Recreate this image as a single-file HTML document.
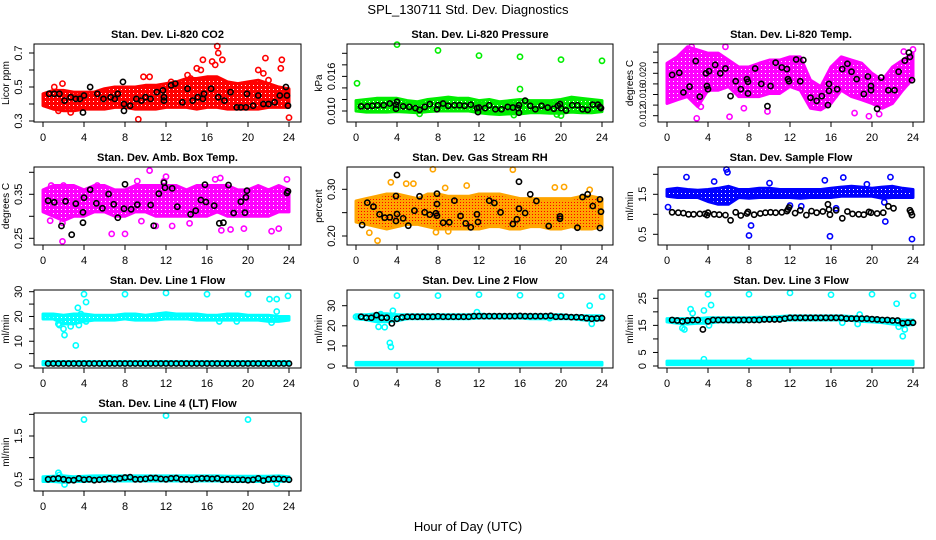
<!DOCTYPE html>
<html><head><meta charset="utf-8"><style>
html,body{margin:0;padding:0;background:#fff}
svg{display:block;font-family:"Liberation Sans",sans-serif}
</style></head><body>
<svg id="chart" width="936" height="540" viewBox="0 0 936 540" xmlns="http://www.w3.org/2000/svg">
<defs>
<pattern id="rhpat" width="3" height="3" patternUnits="userSpaceOnUse"><rect width="3" height="3" fill="#ffa500"/><rect x="1" y="1" width="1" height="1" fill="#ff0000"/></pattern>
<pattern id="p-red" width="4" height="4" patternUnits="userSpaceOnUse"><rect width="4" height="4" fill="#ff0000"/><rect x="1" y="1" width="1" height="1" fill="#fff"/></pattern>
<pattern id="p-green" width="4" height="4" patternUnits="userSpaceOnUse"><rect width="4" height="4" fill="#00ee00"/><rect x="1" y="1" width="1" height="1" fill="#fff"/></pattern>
<pattern id="p-mag" width="4" height="4" patternUnits="userSpaceOnUse"><rect width="4" height="4" fill="#ff00ff"/><rect x="1" y="1" width="1" height="1" fill="#fff"/></pattern>
<pattern id="p-blue" width="4" height="4" patternUnits="userSpaceOnUse"><rect width="4" height="4" fill="#0000ff"/><rect x="1" y="1" width="1" height="1" fill="#fff"/></pattern>
<pattern id="p-cyan" width="4" height="4" patternUnits="userSpaceOnUse"><rect width="4" height="4" fill="#00ffff"/><rect x="1" y="1" width="1" height="1" fill="#fff"/></pattern>
</defs>
<text x="468" y="14" text-anchor="middle" font-size="13">SPL_130711  Std. Dev. Diagnostics</text>
<text x="468" y="531" text-anchor="middle" font-size="13">Hour of Day (UTC)</text>
<g id="panels"></g>
</svg>
<script>
const HOURS=[0,1,2,3,4,5,6,7,8,9,10,11,12,13,14,15,16,17,18,19,20,21,22,23,24];
const XTICKS=[0,4,8,12,16,20,24];
const HALF=[0.5,1,1.5,2,2.5,3,3.5,4,4.5,5,5.5,6,6.5,7,7.5,8,8.5,9,9.5,10,10.5,11,11.5,12,12.5,13,13.5,14,14.5,15,15.5,16,16.5,17,17.5,18,18.5,19,19.5,20,20.5,21,21.5,22,22.5,23,23.5,24];

// Panel 1: CO2
const co2Hi=[0.46,0.48,0.48,0.47,0.47,0.47,0.49,0.50,0.50,0.50,0.51,0.51,0.52,0.53,0.55,0.55,0.56,0.56,0.53,0.52,0.53,0.54,0.52,0.50,0.49];
const co2Lo=[0.39,0.37,0.36,0.36,0.37,0.37,0.37,0.38,0.38,0.37,0.37,0.37,0.38,0.38,0.38,0.37,0.38,0.38,0.37,0.37,0.37,0.37,0.38,0.38,0.38];
const co2OutX=[1.1,1.9,9.3,9.8,10.4,12.5,14.1,14.4,15.0,15.4,15.6,16.5,16.8,17.0,17.1,17.5,21.5,21.7,22.0,23.2,23.3,24.0,21.0,2.7,1.5];
const co2OutY=[0.50,0.52,0.31,0.56,0.56,0.53,0.57,0.55,0.61,0.60,0.66,0.65,0.63,0.74,0.70,0.66,0.58,0.67,0.54,0.61,0.66,0.32,0.60,0.35,0.36];
const co2BlkX=[0.6,1.1,1.6,2.1,2.7,3.2,3.6,3.9,4.0,4.6,5.3,5.9,6.6,7.0,7.3,7.8,7.9,7.9,8.5,9.1,9.6,10.0,10.5,11.1,11.7,11.8,11.8,12.5,12.9,13.6,14.1,14.6,15.1,15.6,15.7,16.4,17.1,17.7,18.3,18.9,19.3,19.8,19.9,20.5,21.0,21.5,22.0,22.6,23.1,23.7,23.8,23.9];
const co2BlkY=[0.46,0.46,0.46,0.42,0.44,0.43,0.43,0.35,0.45,0.50,0.46,0.43,0.44,0.43,0.46,0.53,0.40,0.36,0.39,0.43,0.42,0.44,0.43,0.47,0.48,0.44,0.42,0.51,0.52,0.41,0.49,0.42,0.44,0.43,0.46,0.49,0.44,0.42,0.47,0.38,0.38,0.38,0.46,0.39,0.45,0.40,0.40,0.41,0.45,0.50,0.45,0.39];

// Panel 2: Pressure
const prHi=[0.0118,0.0120,0.0122,0.0122,0.0122,0.0118,0.0116,0.0120,0.0122,0.0124,0.0122,0.0122,0.0118,0.0120,0.0116,0.0118,0.0120,0.0118,0.0118,0.0118,0.0120,0.0124,0.0122,0.0120,0.0118];
const prLo=[0.0100,0.0098,0.0098,0.0098,0.0099,0.0098,0.0097,0.0099,0.0100,0.0100,0.0100,0.0100,0.0097,0.0095,0.0094,0.0095,0.0095,0.0097,0.0097,0.0096,0.0096,0.0098,0.0097,0.0097,0.0099];
const prOutX=[0.1,4.0,8.0,12.0,16.0,20.0,24.0,16.0,15.4,20.0,6.2,19.6];
const prOutY=[0.0148,0.0215,0.0205,0.0196,0.0194,0.0189,0.0187,0.0138,0.0093,0.0092,0.0095,0.0094];
const prBlkX=[0.5,1.1,1.6,2.1,2.7,3.3,3.9,4.0,3.9,4.6,5.2,5.8,6.2,6.7,7.2,7.9,8.0,8.5,9.0,9.6,10.1,10.6,11.2,11.8,11.9,12.0,12.6,13.0,13.6,14.2,14.8,15.3,15.8,15.9,15.9,16.5,17.0,17.5,18.1,18.7,19.3,19.7,19.9,20.0,20.5,21.1,21.6,22.1,22.6,23.1,23.6,23.8,23.9];
const prBlkY=[0.0108,0.0108,0.0109,0.0110,0.0110,0.0113,0.0111,0.0116,0.0104,0.0108,0.0107,0.0105,0.0102,0.0107,0.0112,0.0103,0.0110,0.0113,0.0109,0.0110,0.0110,0.0109,0.0111,0.0105,0.0098,0.0106,0.0105,0.0110,0.0103,0.0103,0.0107,0.0106,0.0105,0.0110,0.0097,0.0118,0.0109,0.0103,0.0109,0.0106,0.0104,0.0109,0.0112,0.0105,0.0101,0.0110,0.0110,0.0103,0.0102,0.0111,0.0111,0.0107,0.0105];

// Panel 3: Li-820 Temp
const tmHi=[0.0219,0.0231,0.0250,0.0244,0.0238,0.0238,0.0225,0.0212,0.0212,0.0219,0.0225,0.0225,0.0231,0.0231,0.0187,0.0175,0.0212,0.0231,0.0225,0.0219,0.0200,0.0187,0.0212,0.0225,0.0238];
const tmLo=[0.0143,0.0150,0.0156,0.0137,0.0168,0.0168,0.0175,0.0156,0.0156,0.0156,0.0162,0.0162,0.0175,0.0168,0.0134,0.0131,0.0143,0.0168,0.0156,0.0150,0.0143,0.0134,0.0143,0.0168,0.0190];
const tmOutX=[2.4,5.7,2.9,6.1,19.7,20.7,7.5,9.8,3.3,18.3,23.1,24.0];
const tmOutY=[0.0250,0.0250,0.0115,0.0118,0.0119,0.0123,0.0134,0.0128,0.0137,0.0125,0.0241,0.0245];
const tmBlkX=[0.5,1.2,1.6,2.2,2.8,3.2,3.8,3.9,4.0,4.1,4.7,5.2,5.7,6.2,6.7,7.2,7.8,7.9,7.9,8.6,9.2,9.8,10.1,10.6,11.2,11.7,11.8,11.9,12.6,13.0,13.3,14.0,14.6,15.1,15.7,15.8,15.8,16.6,17.1,17.6,18.0,18.5,19.2,19.6,19.9,19.9,20.5,20.9,21.6,22.2,22.6,23.2,23.6,23.7,23.9];
const tmBlkY=[0.0197,0.0201,0.0164,0.0175,0.0223,0.0156,0.0200,0.0176,0.0170,0.0204,0.0216,0.0200,0.0209,0.0157,0.0185,0.0170,0.0189,0.0184,0.0162,0.0209,0.0180,0.0138,0.0176,0.0220,0.0211,0.0208,0.0189,0.0185,0.0226,0.0185,0.0225,0.0154,0.0148,0.0157,0.0140,0.0180,0.0167,0.0170,0.0208,0.0218,0.0203,0.0189,0.0161,0.0194,0.0176,0.0168,0.0133,0.0192,0.0168,0.0168,0.0203,0.0224,0.0239,0.0231,0.0187];

// Panel 4: Amb Box Temp
const abHi=[0.36,0.37,0.37,0.37,0.36,0.37,0.37,0.36,0.36,0.37,0.37,0.37,0.37,0.37,0.36,0.37,0.37,0.37,0.37,0.36,0.36,0.37,0.36,0.37,0.36];
const abLo=[0.31,0.30,0.29,0.30,0.30,0.31,0.31,0.30,0.30,0.31,0.31,0.30,0.30,0.30,0.30,0.30,0.30,0.31,0.30,0.30,0.30,0.30,0.30,0.31,0.31];
const abOutX=[1.9,10.4,11.8,12.0,17.3,16.8,23.8,8.0,6.7,17.4,18.3,19.6,22.3,23.0,0.7,1.9,9.6,11.0,12.6,14.3,0.8,2.0,9.2,5.3];
const abOutY=[0.243,0.404,0.380,0.390,0.387,0.384,0.384,0.260,0.260,0.268,0.270,0.272,0.266,0.272,0.290,0.285,0.289,0.278,0.278,0.284,0.370,0.370,0.380,0.370];
const abBlkX=[0.5,1.1,2.2,2.8,1.8,3.2,3.9,3.9,4.0,4.6,5.2,5.8,6.4,6.9,7.3,7.9,8.0,8.6,9.2,10.5,10.8,11.3,11.8,11.9,12.6,13.1,14.4,14.9,15.4,15.8,15.9,16.7,17.2,17.6,18.1,18.6,19.3,19.7,19.8,19.9,23.8,23.9];
const abBlkY=[0.3355,0.3318,0.3341,0.2582,0.2780,0.3287,0.2855,0.3091,0.3423,0.3605,0.3295,0.3182,0.3507,0.3273,0.2968,0.3173,0.3727,0.3159,0.3264,0.3257,0.2786,0.3514,0.3764,0.3650,0.3636,0.3218,0.3045,0.3127,0.3370,0.3718,0.3325,0.3241,0.2841,0.2855,0.3711,0.3075,0.3332,0.3082,0.3432,0.3582,0.3530,0.3568];

// Panel 5: Gas Stream RH
const rhHi=[0.275,0.280,0.285,0.290,0.290,0.285,0.280,0.290,0.290,0.285,0.285,0.285,0.290,0.290,0.290,0.285,0.280,0.280,0.280,0.280,0.280,0.280,0.285,0.285,0.280];
const rhLo=[0.230,0.225,0.220,0.215,0.220,0.225,0.225,0.220,0.215,0.215,0.215,0.215,0.215,0.220,0.220,0.215,0.215,0.220,0.220,0.215,0.215,0.220,0.215,0.215,0.220];
const rhOutX=[1.3,2.1,3.4,4.9,5.6,7.5,7.8,8.7,10.8,15.3,19.4,20.3,22.8,9.0];
const rhOutY=[0.207,0.190,0.315,0.312,0.312,0.343,0.208,0.303,0.308,0.342,0.304,0.305,0.299,0.210];
const rhBlkX=[0.6,1.1,1.7,2.3,2.8,3.3,3.9,3.9,4.0,4.6,5.1,5.7,6.2,6.7,7.2,7.8,7.9,7.9,7.9,8.5,9.1,9.6,10.2,10.7,11.2,11.8,11.9,13.0,13.5,14.1,15.3,15.7,15.9,15.9,16.5,17.0,17.6,18.8,19.9,19.9,21.6,22.1,22.6,23.1,23.8,23.8,23.9,4.0];
const rhBlkY=[0.2236,0.2714,0.2628,0.2465,0.2392,0.2400,0.2321,0.2857,0.2471,0.2378,0.2221,0.2542,0.2850,0.2507,0.2457,0.2486,0.2906,0.2435,0.2685,0.2285,0.2293,0.2757,0.2428,0.2271,0.2186,0.2465,0.2300,0.2757,0.2707,0.2507,0.2257,0.2357,0.3163,0.2585,0.2492,0.2893,0.2749,0.2214,0.2421,0.2371,0.2178,0.2835,0.2893,0.2642,0.2785,0.2171,0.2521,0.3306];

// Panel 6: Sample Flow
const sfHi=[1.62,1.65,1.62,1.60,1.62,1.65,1.70,1.62,1.62,1.65,1.65,1.62,1.62,1.62,1.62,1.62,1.65,1.68,1.70,1.68,1.65,1.68,1.70,1.65,1.62];
const sfLo=[1.45,1.42,1.42,1.42,1.32,1.25,1.25,1.42,1.40,1.42,1.42,1.42,1.42,1.40,1.42,1.42,1.42,1.45,1.45,1.45,1.45,1.40,1.42,1.42,1.42];
const sfOutX=[0.1,1.9,4.6,5.8,5.9,8.0,8.2,15.9,23.9,21.3,17.2,21.8,12.0,15.4,10.0,19.5,16.5,21.2,13.1];
const sfOutY=[1.18,1.93,1.82,2.12,2.05,0.47,0.72,0.45,0.38,0.82,1.92,1.93,1.22,1.85,1.78,1.75,1.15,1.30,1.20];
const sfBlkX=[0.5,1.1,1.6,2.1,2.6,3.2,3.7,3.9,4.0,4.6,5.1,5.7,6.2,6.7,7.2,7.8,7.9,8.5,9.1,9.6,10.1,10.6,11.2,11.7,11.8,11.9,12.5,13.0,13.6,14.1,14.6,15.2,15.7,15.8,15.9,16.5,17.1,17.6,18.1,18.7,19.2,19.7,19.9,20.5,21.1,21.6,22.1,23.7,23.8,23.9];
const sfBlkY=[1.05,1.04,1.03,1.00,1.00,1.01,1.01,0.98,1.04,1.00,0.99,0.98,0.85,1.05,0.97,1.02,1.06,0.99,1.02,1.04,1.05,1.04,1.05,1.08,1.12,1.17,1.03,1.10,0.98,1.08,1.04,1.07,1.25,1.12,0.99,1.10,0.90,1.07,1.01,1.00,0.99,1.06,1.04,1.02,1.04,1.20,1.15,1.10,1.05,0.98];

// Panel 7: Line 1 Flow
const l1Hi=[21,21,20.5,21,21,20.5,20.5,20.5,21,21,20.5,21,21.5,21,21,21,20.5,20.5,21,21,20.5,20.5,20.5,20,20];
const l1Lo=[19,19,17,17,18,18.5,18.5,18.5,19,18.5,18.5,18.5,19,19,19,18.5,18.5,18.5,18.5,18.5,18.5,18.5,18,18,18.5];
const l1Hi2=[1.8,1.8,1.8,1.8,1.8,1.8,1.8,1.8,1.8,1.8,1.8,1.8,1.8,1.8,1.8,1.8,1.8,1.8,1.8,1.8,1.8,1.8,1.8,1.8,1.8];
const l1Lo2=[0.5,0.5,0.5,0.5,0.5,0.5,0.5,0.5,0.5,0.5,0.5,0.5,0.5,0.5,0.5,0.5,0.5,0.5,0.5,0.5,0.5,0.5,0.5,0.5,0.5];
const l1OutX=[1.5,1.6,2.0,2.1,2.7,3.2,3.4,3.5,3.7,4.0,4.2,4.2,8.0,12.0,16.0,20.0,22.1,22.8,22.8,23.9,17.2,18.9,22.3];
const l1OutY=[17,16.5,15,12.5,16,8.3,23.5,16.5,21,29,25.8,18,29,29.5,29,29,27,27,22,28.3,18,18,17.5];
const l1BlkY=[1,1,1,1,1,1,1,1,1,1,1,1,1,1,1,1,1,1,1,1,1,1,1,1,1,1,1,1,1,1,1,1,1,1,1,1,1,1,1,1,1,1,1,1,1,1,1,1];

// Panel 8: Line 2 Flow
const l2Hi=[25.5,25.5,26,26,25.5,25.5,25.5,25.5,25.5,25.5,25.5,25.5,25.8,25.5,25.5,25.5,25.5,25.5,25.5,25.5,25.5,25,25,25,25];
const l2Lo=[23.5,23,22,22,22.5,23.5,23.5,23.5,23.5,23.5,23.5,23.5,23.8,23.8,23.8,23.8,23.8,23.5,23.5,23.5,23.5,23.5,23,22.5,23];
const l2Hi2=[1.8,1.8,1.8,1.8,1.8,1.8,1.8,1.8,1.8,1.8,1.8,1.8,1.8,1.8,1.8,1.8,1.8,1.8,1.8,1.8,1.8,1.8,1.8,1.8,1.8];
const l2Lo2=[0.5,0.5,0.5,0.5,0.5,0.5,0.5,0.5,0.5,0.5,0.5,0.5,0.5,0.5,0.5,0.5,0.5,0.5,0.5,0.5,0.5,0.5,0.5,0.5,0.5];
const l2OutX=[0.0,2.2,2.4,2.8,3.3,3.4,3.6,4.0,8.0,12.0,16.0,20.0,22.8,23.0,24.0,11.8,18.9];
const l2OutY=[24.5,19.5,25.8,19.3,11.5,9.5,27.5,35,35,35.5,35.2,35,30,21,34.5,26.8,23.8];
const l2BlkY=[24.5,24,24,25.3,24,24,21.2,23.5,24.2,24.5,24.5,24.5,24.5,24.5,24.5,24.7,24.5,24.5,24.5,24.5,24.5,24.5,24.8,24.8,24.8,24.8,24.8,24.8,24.8,24.8,24.8,24.9,24.8,24.8,24.8,24.8,24.8,25,24.5,24.5,24.5,24.3,24.3,24.2,23.8,23.5,23.7,23.8];

// Panel 9: Line 3 Flow
const l3Hi=[17.5,17.5,17.5,17.5,17.8,17.8,17.8,17.8,17.8,18,18,18.3,18.5,18.5,18.5,18.5,18.5,18.5,18.3,18,17.8,17.5,17.3,17,17];
const l3Lo=[16.3,15.8,15.5,15.8,15.8,16.3,16.3,16.3,16.5,16.5,16.8,16.8,17,17,17,17,17,17,16.8,16.5,16.3,16,15.5,15,15.3];
const l3Hi2=[1.8,1.8,1.8,1.8,1.8,1.8,1.8,1.8,1.8,1.8,1.8,1.8,1.8,1.8,1.8,1.8,1.8,1.8,1.8,1.8,1.8,1.8,1.8,1.8,1.8];
const l3Lo2=[0.5,0.5,0.5,0.5,0.5,0.5,0.5,0.5,0.5,0.5,0.5,0.5,0.5,0.5,0.5,0.5,0.5,0.5,0.5,0.5,0.5,0.5,0.5,0.5,0.5];
const l3OutX=[1.5,1.7,2.3,2.5,3.6,4.0,4.3,4.1,8.0,12.0,16.0,20.0,22.4,22.6,23.0,23.2,24.0,18.8,17.1,18.6,3.6,8.0];
const l3OutY=[14,13.5,21,19.5,20.5,26.5,22.5,15,26.5,27,26.3,26.5,23,14.5,11,13.5,26,19,16,15.5,2.5,1.9];
const l3BlkY=[17,16.8,16.5,16.8,17,17,13.5,16.5,17,17,17,17,17,17,17,17,17,17,17.2,17.2,17.2,17.2,17.5,17.8,17.8,17.8,17.8,17.8,17.8,17.8,17.8,17.8,17.8,17.8,17.5,17.5,17.5,17.5,17.5,17.3,17.2,17,17,16.8,16.8,15.8,16,16];

// Panel 10: Line 4 (LT) Flow
const l4Hi=[0.56,0.57,0.58,0.56,0.57,0.58,0.58,0.58,0.58,0.58,0.58,0.58,0.58,0.58,0.58,0.58,0.58,0.58,0.57,0.57,0.57,0.57,0.57,0.58,0.56];
const l4Lo=[0.45,0.45,0.43,0.45,0.45,0.46,0.46,0.46,0.46,0.46,0.46,0.46,0.46,0.46,0.46,0.46,0.46,0.46,0.46,0.45,0.45,0.45,0.45,0.45,0.46];
const l4OutX=[4.0,12.0,20.0,1.5,2.1,22.8,1.6];
const l4OutY=[1.88,1.97,1.88,0.65,0.38,0.40,0.60];
const l4BlkY=[0.50,0.51,0.52,0.50,0.48,0.48,0.52,0.49,0.50,0.48,0.49,0.50,0.52,0.50,0.52,0.54,0.55,0.50,0.50,0.51,0.53,0.53,0.51,0.50,0.52,0.53,0.50,0.50,0.49,0.51,0.52,0.52,0.51,0.52,0.49,0.50,0.49,0.49,0.49,0.48,0.49,0.52,0.47,0.50,0.51,0.51,0.50,0.49];

const COLS=[34,347,658], COLW=[267,266,266];
const ROWS=[44,167,290,413], ROWH=78;
const NS='http://www.w3.org/2000/svg';
const root=document.getElementById('panels');
function mk(tag,attrs,parent){const e=document.createElementNS(NS,tag);for(const k in attrs)e.setAttribute(k,attrs[k]);(parent||root).appendChild(e);return e;}

function panel(cfg){
  const L=COLS[cfg.col], W=COLW[cfg.col], T=ROWS[cfg.row], B=T+ROWH;
  const g=mk('g',{});
  
  
  const xs=h=>L+9+h*10.25;
  const ys=v=>cfg.p1+(v-cfg.v1)*(cfg.p2-cfg.p1)/(cfg.v2-cfg.v1);
  cfg.bands.forEach((bd)=>{
    let pts=HOURS.map((h,i)=>xs(h)+','+ys(bd.hi[i]));
    for(let i=HOURS.length-1;i>=0;i--)pts.push(xs(HOURS[i])+','+ys(bd.lo[i]));
    const p=mk('polygon',{points:pts.join(' '),fill:cfg.fill,stroke:cfg.color,'stroke-width':3,'stroke-linejoin':'round'},g);
    
    
  });
  cfg.outX.forEach((x,i)=>{
    const c=mk('circle',{cx:xs(x),cy:ys(cfg.outY[i]),r:2.6,fill:'none',stroke:cfg.color,'stroke-width':1.6},g);
    
    
  });
  cfg.blkX.forEach((x,i)=>{
    const c=mk('circle',{cx:xs(x),cy:ys(cfg.blkY[i]),r:2.6,fill:'none',stroke:'#000','stroke-width':1.6},g);
    
    
  });
  const bx=mk('rect',{x:L,y:T,width:W,height:ROWH,fill:'none',stroke:'#000','stroke-width':1},g);
  
  
  const tt=mk('text',{x:L+W/2,y:T-6,'text-anchor':'middle','font-size':11,'font-weight':'bold'},g);
  tt.textContent=cfg.title;
  
  
  XTICKS.forEach(h=>{
    mk('line',{x1:xs(h),x2:xs(h),y1:B,y2:B+5,stroke:'#000'},g);
    const t=mk('text',{x:xs(h),y:B+19,'text-anchor':'middle','font-size':11},g);
    t.textContent=h;
    
    
  });
  const fs=cfg.yfs||11;
  cfg.yticks.forEach((v,i)=>{
    const y=ys(v);
    mk('line',{x1:L-5,x2:L,y1:y,y2:y,stroke:'#000'},g);
    if(cfg.ylabels[i]!==''){
      const t=mk('text',{x:L-12,y:y,'text-anchor':'middle','font-size':fs,transform:'rotate(-90 '+(L-12)+' '+y+')'},g);
      t.textContent=cfg.ylabels[i];
      
      
    }
  });
  const yt=mk('text',{x:L-25,y:T+ROWH/2,'text-anchor':'middle','font-size':10,transform:'rotate(-90 '+(L-25)+' '+(T+ROWH/2)+')'},g);
  yt.textContent=cfg.ytitle;
  
  
}
const CY='#00ffff';
panel({name:'panel-co2',col:0,row:0,title:'Stan. Dev. Li-820 CO2',ytitle:'Licor ppm',v1:0.3,p1:121,v2:0.7,p2:53,color:'#ff0000',fill:'url(#p-red)',bands:[{hi:co2Hi,lo:co2Lo}],outX:co2OutX,outY:co2OutY,blkX:co2BlkX,blkY:co2BlkY,yticks:[0.3,0.4,0.5,0.6,0.7],ylabels:['0.3','','0.5','','0.7']});
panel({name:'panel-pressure',col:1,row:0,title:'Stan. Dev. Li-820 Pressure',ytitle:'kPa',v1:0.010,p1:111,v2:0.020,p2:53.3,color:'#00ee00',fill:'url(#p-green)',bands:[{hi:prHi,lo:prLo}],outX:prOutX,outY:prOutY,blkX:prBlkX,blkY:prBlkY,yticks:[0.010,0.012,0.014,0.016,0.018,0.020],ylabels:['0.010','','','0.016','','']});
panel({name:'panel-temp',col:2,row:0,title:'Stan. Dev. Li-820 Temp.',ytitle:'degrees C',yfs:9,v1:0.012,p1:115.7,v2:0.020,p2:73.3,color:'#ff00ff',fill:'url(#p-mag)',bands:[{hi:tmHi,lo:tmLo}],outX:tmOutX,outY:tmOutY,blkX:tmBlkX,blkY:tmBlkY,yticks:[0.012,0.014,0.016,0.018,0.020,0.022,0.024],ylabels:['0.012','','0.016','','0.020','','']});
panel({name:'panel-ambbox',col:0,row:1,title:'Stan. Dev. Amb. Box Temp.',ytitle:'degrees C',v1:0.25,p1:238.3,v2:0.40,p2:172.3,color:'#ff00ff',fill:'url(#p-mag)',bands:[{hi:abHi,lo:abLo}],outX:abOutX,outY:abOutY,blkX:abBlkX,blkY:abBlkY,yticks:[0.25,0.30,0.35,0.40],ylabels:['0.25','','0.35','']});
panel({name:'panel-rh',col:1,row:1,title:'Stan. Dev. Gas Stream RH',ytitle:'percent',v1:0.20,p1:236,v2:0.30,p2:189.3,color:'#ffa500',fill:'url(#rhpat)',bands:[{hi:rhHi,lo:rhLo}],outX:rhOutX,outY:rhOutY,blkX:rhBlkX,blkY:rhBlkY,yticks:[0.20,0.25,0.30],ylabels:['0.20','','0.30']});
panel({name:'panel-sampleflow',col:2,row:1,title:'Stan. Dev. Sample Flow',ytitle:'ml/min',v1:0.5,p1:234.3,v2:1.5,p2:194.3,color:'#0000ff',fill:'url(#p-blue)',bands:[{hi:sfHi,lo:sfLo}],outX:sfOutX,outY:sfOutY,blkX:sfBlkX,blkY:sfBlkY,yticks:[0.5,1.0,1.5,2.0],ylabels:['0.5','','1.5','']});
panel({name:'panel-line1',col:0,row:2,title:'Stan. Dev. Line 1 Flow',ytitle:'ml/min',v1:0,p1:366,v2:30,p2:291.7,color:CY,fill:'url(#p-cyan)',bands:[{hi:l1Hi,lo:l1Lo},{hi:l1Hi2,lo:l1Lo2}],outX:l1OutX,outY:l1OutY,blkX:HALF,blkY:l1BlkY,yticks:[0,5,10,15,20,25,30],ylabels:['0','','10','','20','','30']});
panel({name:'panel-line2',col:1,row:2,title:'Stan. Dev. Line 2 Flow',ytitle:'ml/min',v1:0,p1:366,v2:30,p2:305.7,color:CY,fill:'url(#p-cyan)',bands:[{hi:l2Hi,lo:l2Lo},{hi:l2Hi2,lo:l2Lo2}],outX:l2OutX,outY:l2OutY,blkX:HALF,blkY:l2BlkY,yticks:[0,10,20,30],ylabels:['0','10','20','30']});
panel({name:'panel-line3',col:2,row:2,title:'Stan. Dev. Line 3 Flow',ytitle:'ml/min',v1:0,p1:366,v2:25,p2:298.3,color:CY,fill:'url(#p-cyan)',bands:[{hi:l3Hi,lo:l3Lo},{hi:l3Hi2,lo:l3Lo2}],outX:l3OutX,outY:l3OutY,blkX:HALF,blkY:l3BlkY,yticks:[0,5,10,15,20,25],ylabels:['0','5','','15','','25']});
panel({name:'panel-line4',col:0,row:3,title:'Stan. Dev. Line 4 (LT) Flow',ytitle:'ml/min',v1:0.5,p1:479.3,v2:1.5,p2:436,color:CY,fill:'url(#p-cyan)',bands:[{hi:l4Hi,lo:l4Lo}],outX:l4OutX,outY:l4OutY,blkX:HALF,blkY:l4BlkY,yticks:[0.5,1.0,1.5,2.0],ylabels:['0.5','','1.5','']});
</script>
</body></html>
